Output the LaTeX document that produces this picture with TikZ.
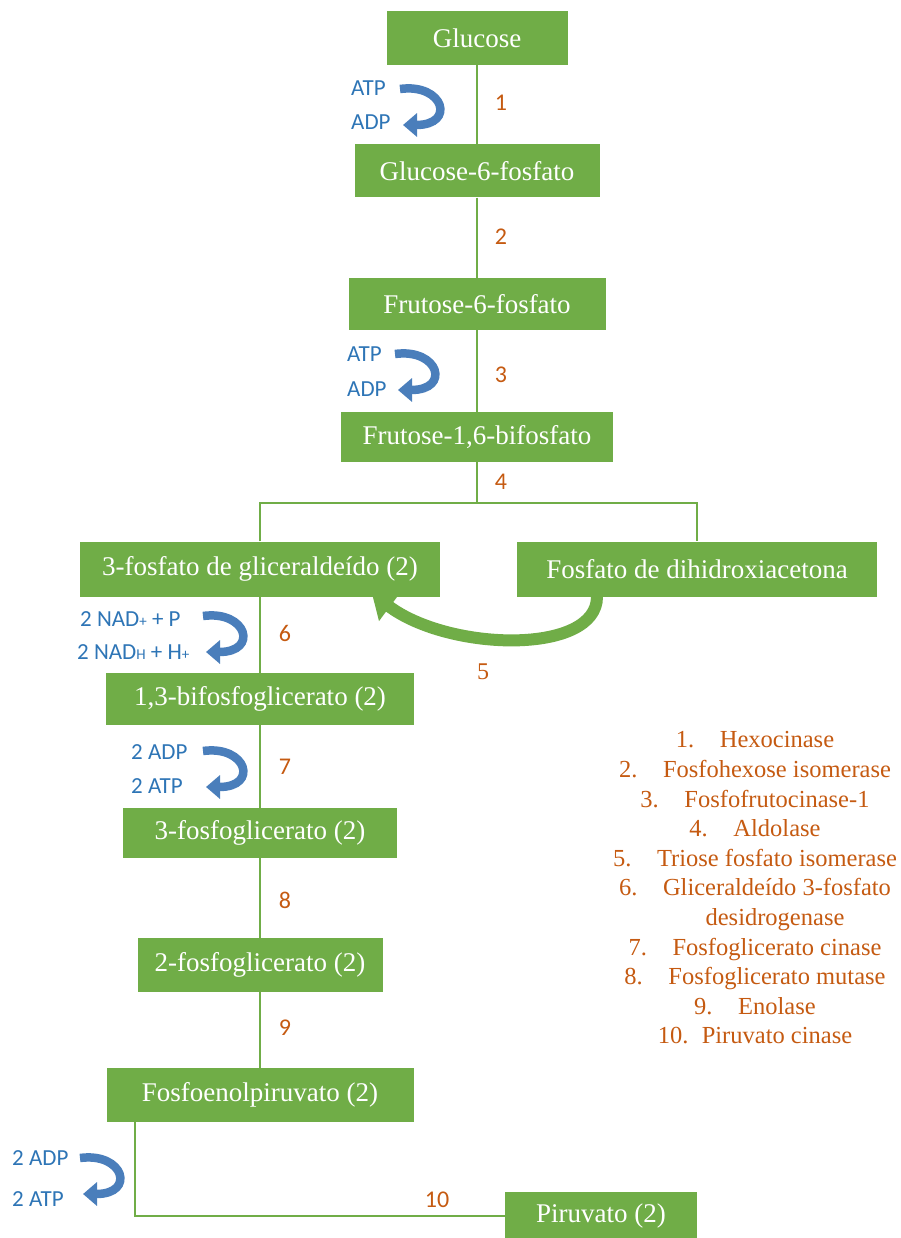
\documentclass[tikz,border=0pt]{standalone}
\usepackage{fontspec}
\setmainfont{Liberation Serif}
\newfontfamily\calibri{Carlito}
\usetikzlibrary{arrows.meta}
\definecolor{verde}{RGB}{112,173,71}
\definecolor{azul}{RGB}{46,117,182}
\definecolor{azulseta}{RGB}{74,126,187}
\definecolor{laranja}{RGB}{197,90,17}
\tikzset{
  caixa/.style={fill=verde, text=white, inner sep=0pt, font=\fontsize{27}{32}\selectfont},
  liga/.style={draw=verde, line width=2.5pt},
  num/.style={text=laranja, inner sep=0pt, font=\calibri\fontsize{24}{28}\selectfont},
  cof/.style={text=azul, anchor=west, inner sep=0pt, font=\calibri\fontsize{23}{28}\selectfont},
  ciclo/.pic={\draw[azulseta, line width=8.5pt, -{Triangle[width=23pt,length=14pt]}] (0,5) .. controls (44,-1) and (56,41) .. (3,41);}
}
\newcommand{\pq}[1]{{\fontsize{15}{18}\selectfont #1}}
\newcommand{\enz}[2]{\makebox[44pt][l]{#1.}#2}
\begin{document}
\begin{tikzpicture}[x=1pt, y=-1pt]
  \useasboundingbox (0,0) rectangle (901,1238);

  % caixas da via
  \node[caixa, minimum width=181, minimum height=54] (glc) at (477,38) {Glucose};
  \node[caixa, minimum width=245, minimum height=53] (g6p) at (477,171) {Glucose-6-fosfato};
  \node[caixa, minimum width=257, minimum height=52] (f6p) at (477,304) {Frutose-6-fosfato};
  \node[caixa, minimum width=272, minimum height=50] (f16bp) at (477,437) {Frutose-1,6-bifosfato};
  \node[caixa, minimum width=360, minimum height=55] (gap) at (260,569) {3-fosfato de gliceraldeído (2)};
  \node[caixa, minimum width=360, minimum height=55] (dhap) at (697,569) {Fosfato de dihidroxiacetona};
  \node[caixa, minimum width=308, minimum height=52] (bpg) at (260,699) {1,3-bifosfoglicerato (2)};
  \node[caixa, minimum width=274, minimum height=50] (pg3) at (260,833) {3-fosfoglicerato (2)};
  \node[caixa, minimum width=245, minimum height=54] (pg2) at (260,965) {2-fosfoglicerato (2)};
  \node[caixa, minimum width=307, minimum height=54] (pep) at (260,1095) {Fosfoenolpiruvato (2)};
  \node[caixa, minimum width=192, minimum height=48] (pir) at (601,1216) {Piruvato (2)};

  % ligacoes
  \draw[liga] (glc.south) -- (g6p.north);
  \draw[liga] (g6p.south) -- (f6p.north);
  \draw[liga] (f6p.south) -- (f16bp.north);
  \coordinate (div) at (477,503);
  \draw[liga] (f16bp.south) -- (div);
  \draw[liga] (gap.north) |- (div) -| (dhap.north);
  \draw[liga] (gap.south) -- (bpg.north);
  \draw[liga] (bpg.south) -- (pg3.north);
  \draw[liga] (pg3.south) -- (pg2.north);
  \draw[liga] (pg2.south) -- (pep.north);
  \draw[liga] ([xshift=-125]pep.south) |- (pir.west);

  % isomerase (seta verde)
  \draw[verde, line width=12pt, -{Triangle[width=34pt,length=22pt]}]
    ([xshift=-100]dhap.south) .. controls +(0,58) and (450,652) .. ([xshift=112,yshift=3]gap.south);

  % numeros das reacoes
  \node[num] (n1) at (501,103) {1};
  \node[num] (n2) at (501,237) {2};
  \node[num] (n3) at (501,375) {3};
  \node[num] (n4) at (501,482) {4};
  \node[num, font=\fontsize{24}{28}\selectfont] (n5) at (483,672) {5};
  \node[num] (n6) at (285,633) {6};
  \node[num] (n7) at (285,767) {7};
  \node[num] (n8) at (285,900) {8};
  \node[num] (n9) at (285,1028) {9};
  \node[num] (n10) at (437,1200) {10};

  % cofatores
  \node[cof] (atp1) at (351,88) {ATP};
  \node[cof] (adp1) at (351,122) {ADP};
  \pic at (400,84) {ciclo};
  \node[cof] (atp2) at (347,354) {ATP};
  \node[cof] (adp2) at (347,389) {ADP};
  \pic at (395,349) {ciclo};
  \node[cof] (nad) at (80,619) {2 NAD\pq{+} + P};
  \node[cof] (nadh) at (77,652) {2 NAD\pq{H} + H\pq{+}};
  \pic at (203,611) {ciclo};
  \node[cof] (adp3) at (131,752) {2 ADP};
  \node[cof] (atp3) at (131,786) {2 ATP};
  \pic at (203,746) {ciclo};
  \node[cof] (adp4) at (12,1158) {2 ADP};
  \node[cof] (atp4) at (12,1199) {2 ATP};
  \pic at (80,1153) {ciclo};

  % legenda das enzimas
  \node[text=laranja, align=center, inner sep=0pt, font=\fontsize{24.5}{29.6}\selectfont] (enzimas) at (755,888) {%
    \enz{1}{Hexocinase}\\
    \enz{2}{Fosfohexose isomerase}\\
    \enz{3}{Fosfofrutocinase-1}\\
    \enz{4}{Aldolase}\\
    \enz{5}{Triose fosfato isomerase}\\
    \enz{6}{Gliceraldeído 3-fosfato}\\
    \hspace*{40pt}desidrogenase\\
    \enz{7}{Fosfoglicerato cinase}\\
    \enz{8}{Fosfoglicerato mutase}\\
    \enz{9}{Enolase}\\
    \enz{10}{Piruvato cinase}};
\end{tikzpicture}
\end{document}
